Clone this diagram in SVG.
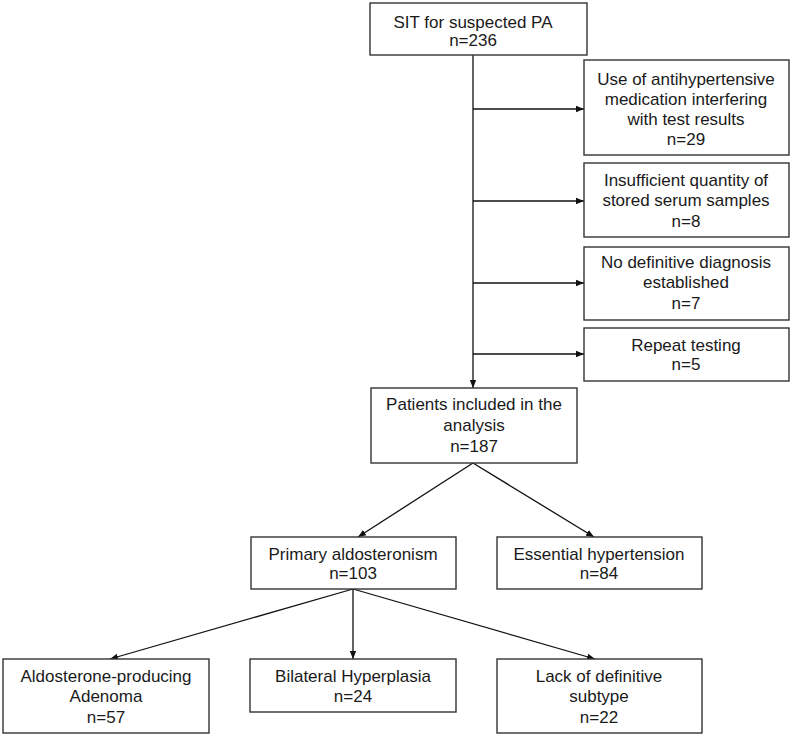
<svg xmlns="http://www.w3.org/2000/svg" width="793" height="738" viewBox="0 0 793 738">
<defs>
<marker id="ah" viewBox="0 0 10 10" refX="10" refY="5" markerWidth="8" markerHeight="8" markerUnits="userSpaceOnUse" orient="auto">
<path d="M0,1 L10,5 L0,9 Z" fill="#111"/>
</marker>
<style>
.box{fill:#fff;stroke:#333;stroke-width:1.4}
.t{font-family:"Liberation Sans",Arial,sans-serif;font-size:17px;fill:#1a1a1a;text-anchor:middle}
.c{fill:none;stroke:#111;stroke-width:1.3}
.ca{fill:none;stroke:#111;stroke-width:1.3;marker-end:url(#ah)}
</style>
</defs>
<rect width="793" height="738" fill="#fff"/>
<g id="connectors">
<line class="ca" x1="473" y1="55" x2="473" y2="388"/>
<line class="ca" x1="473" y1="109" x2="584" y2="109"/>
<line class="ca" x1="473" y1="201" x2="584" y2="201"/>
<line class="ca" x1="473" y1="283" x2="584" y2="283"/>
<line class="ca" x1="473" y1="354" x2="584" y2="354"/>
<line class="ca" x1="473" y1="463" x2="358" y2="537"/>
<line class="ca" x1="473" y1="463" x2="594" y2="537"/>
<line class="ca" x1="353" y1="589" x2="110" y2="659"/>
<line class="ca" x1="353" y1="589" x2="353" y2="659"/>
<line class="ca" x1="353" y1="589" x2="595" y2="659"/>
</g>
<g id="sit">
<rect class="box" x="370" y="3" width="217" height="52"/>
<text class="t" x="473" y="28">SIT for suspected PA</text>
<text class="t" x="473" y="46">n=236</text>
</g>
<g id="medication">
<rect class="box" x="584" y="60" width="205" height="95"/>
<text class="t" x="686" y="85">Use of antihypertensive</text>
<text class="t" x="686" y="105">medication interfering</text>
<text class="t" x="686" y="125">with test results</text>
<text class="t" x="686" y="145">n=29</text>
</g>
<g id="insufficient">
<rect class="box" x="584" y="163" width="205" height="74"/>
<text class="t" x="686" y="186">Insufficient quantity of</text>
<text class="t" x="686" y="206">stored serum samples</text>
<text class="t" x="686" y="227">n=8</text>
</g>
<g id="nodiagnosis">
<rect class="box" x="584" y="247" width="205" height="73"/>
<text class="t" x="686" y="268">No definitive diagnosis</text>
<text class="t" x="686" y="288">established</text>
<text class="t" x="686" y="309">n=7</text>
</g>
<g id="repeat">
<rect class="box" x="584" y="328" width="205" height="53"/>
<text class="t" x="686" y="351">Repeat testing</text>
<text class="t" x="686" y="370">n=5</text>
</g>
<g id="included">
<rect class="box" x="371" y="388" width="206" height="75"/>
<text class="t" x="474" y="410">Patients included in the</text>
<text class="t" x="474" y="431">analysis</text>
<text class="t" x="474" y="452">n=187</text>
</g>
<g id="pa">
<rect class="box" x="251" y="537" width="205" height="52"/>
<text class="t" x="353" y="560">Primary aldosteronism</text>
<text class="t" x="353" y="579">n=103</text>
</g>
<g id="eh">
<rect class="box" x="497" y="537" width="205" height="52"/>
<text class="t" x="599" y="560">Essential hypertension</text>
<text class="t" x="599" y="579">n=84</text>
</g>
<g id="apa">
<rect class="box" x="3" y="659" width="206" height="74"/>
<text class="t" x="106" y="682">Aldosterone-producing</text>
<text class="t" x="106" y="702">Adenoma</text>
<text class="t" x="106" y="723">n=57</text>
</g>
<g id="bilateral">
<rect class="box" x="250" y="659" width="206" height="53"/>
<text class="t" x="353" y="682">Bilateral Hyperplasia</text>
<text class="t" x="353" y="702">n=24</text>
</g>
<g id="lack">
<rect class="box" x="497" y="659" width="205" height="74"/>
<text class="t" x="599" y="682">Lack of definitive</text>
<text class="t" x="599" y="702">subtype</text>
<text class="t" x="599" y="723">n=22</text>
</g>
</svg>
